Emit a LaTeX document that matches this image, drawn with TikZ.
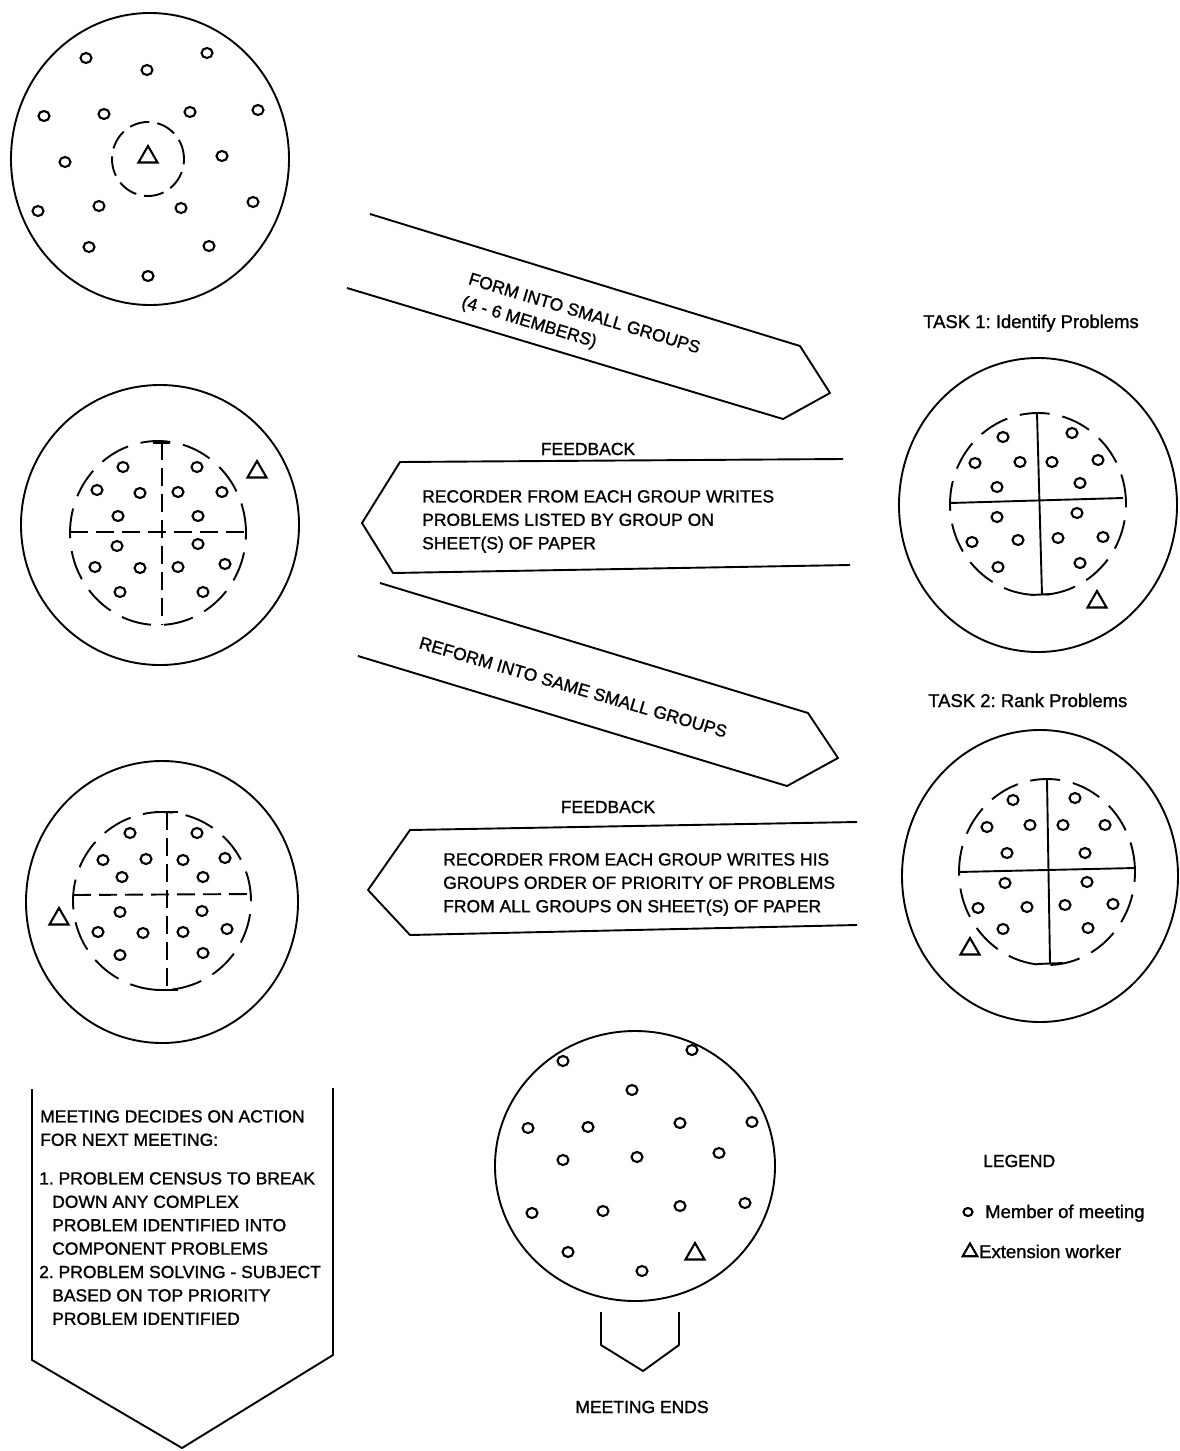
\documentclass[tikz,border=0pt]{standalone}
\usepackage{fontspec}
\setmainfont{Liberation Sans}
\newfontfamily\scanfont{Liberation Sans}[FakeBold=1.2]
\usetikzlibrary{shapes.geometric}
\tikzset{
  room/.style={draw, ellipse, inner sep=0pt, line width=1.9pt},
  member/.style={draw, ellipse, minimum width=11pt, minimum height=10pt, inner sep=0pt, line width=2.1pt},
  worker/.style={draw, regular polygon, regular polygon sides=3, minimum size=22pt, inner sep=0pt, line width=2.1pt},
  grpring/.style={line width=1.9pt, dash pattern=on 30pt off 13pt},
  smallring/.style={line width=1.9pt, dash pattern=on 20pt off 8pt},
  crossdash/.style={line width=1.9pt, dash pattern=on 18pt off 8pt},
  crosssolid/.style={line width=1.9pt},
  blockarrow/.style={line width=1.9pt, line join=round},
  caps/.style={font=\scanfont\frenchspacing\fontsize{17.5}{23.4}\selectfont, inner sep=0pt},
  mixed/.style={font=\scanfont\frenchspacing\fontsize{18.5}{23}\selectfont, inner sep=0pt},
}
\begin{document}
\begin{tikzpicture}[x=1pt,y=-1pt]
\useasboundingbox (0,0) rectangle (1179,1451);
\fill[white] (0,0) rectangle (1179,1451);

% ---------- circle 1 : whole meeting ----------
\node[room, minimum width=278pt, minimum height=292pt] (c1) at (150,159) {};
\draw[smallring] (148,159) ellipse [x radius=36pt, y radius=37pt];
\node[worker] (w1) at (148,157) {};
\foreach \p [count=\i] in {(86,58),(207,53),(147,70),(44,116),(104,114),(190,112),(258,110),(65,162),(222,156),(38,211),(99,206),(181,208),(253,202),(89,247),(209,246),(148,276)}
  \node[member] (a\i) at \p {};

% ---------- arrow 1 ----------
\draw[blockarrow] (370,214) -- (800,346) -- (830,393) -- (783,419) -- (347,288);
\node[caps, font=\scanfont\frenchspacing\fontsize{17.5}{24}\selectfont, rotate=-16.8, anchor=north west, align=left] (t1) at (471,272)
  {FORM INTO SMALL GROUPS\\(4 - 6 MEMBERS)};

% ---------- circle 3 : task 1 ----------
\node[mixed, anchor=base west] (task1) at (923,328) {TASK 1: Identify Problems};
\node[room, minimum width=278pt, minimum height=294pt] (c3) at (1038,505) {};
\draw[grpring] (1038,504) ellipse [x radius=88pt, y radius=91pt];
\draw[crosssolid] (1037,413) -- (1042,595);
\draw[crosssolid] (950,503) -- (1123,498);
\draw[crosssolid] (1031,595) -- (1052,594);
\node[worker] (w3) at (1097,602) {};
\foreach \p [count=\i] in {(1003,437),(1072,433),(975,463),(1020,462),(1052,462),(1098,460),(997,487),(1080,483),(997,517),(1077,513),(972,542),(1018,540),(1058,538),(1103,537),(998,567),(1080,563)}
  \node[member] (b\i) at \p {};

% ---------- feedback 1 ----------
\node[caps, anchor=base] (fb1) at (588,455) {FEEDBACK};
\draw[blockarrow] (843,459) -- (400,462) -- (362,523) -- (393,573) -- (850,565);
\node[caps, anchor=north west, align=left] (fb1t) at (422,490)
  {RECORDER FROM EACH GROUP WRITES\\PROBLEMS LISTED BY GROUP ON\\SHEET(S) OF PAPER};

% ---------- circle 2 ----------
\node[room, minimum width=278pt, minimum height=280pt] (c2) at (160,525) {};
\draw[grpring] (158,533) ellipse [x radius=88pt, y radius=92pt];
\draw[crossdash] (162,442) -- (162,625);
\draw[crossdash] (70,532) -- (247,532);
\draw[crosssolid] (153,443) -- (170,443);
\node[worker] (w2) at (257,472) {};
\foreach \p [count=\i] in {(123,467),(197,467),(97,490),(140,493),(178,492),(222,492),(118,516),(198,516),(117,546),(198,544),(95,567),(140,568),(178,567),(225,564),(120,592),(203,592)}
  \node[member] (d\i) at \p {};

% ---------- arrow 2 ----------
\draw[blockarrow] (380,583) -- (808,713) -- (838,758) -- (787,786) -- (358,656);
\node[caps, rotate=-16.3, anchor=base west] (t2) at (418,648) {REFORM INTO SAME SMALL GROUPS};

% ---------- circle 4 : task 2 ----------
\node[mixed, anchor=base west] (task2) at (928,707) {TASK 2: Rank Problems};
\node[room, minimum width=276pt, minimum height=292pt] (c4) at (1040,876) {};
\draw[grpring] (1047,872) ellipse [x radius=88pt, y radius=93pt];
\draw[crosssolid] (1047,780) -- (1050,963);
\draw[crosssolid] (958,872) -- (1135,868);
\draw[crosssolid] (1037,964) -- (1063,963);
\node[worker] (w4) at (970,949) {};
\foreach \p [count=\i] in {(1013,800),(1075,798),(987,827),(1030,825),(1063,825),(1105,825),(1007,853),(1085,853),(1005,883),(1087,882),(978,908),(1027,907),(1065,905),(1113,904),(1003,929),(1088,928)}
  \node[member] (e\i) at \p {};

% ---------- feedback 2 ----------
\node[caps, anchor=base] (fb2) at (608,813) {FEEDBACK};
\draw[blockarrow] (857,822) -- (410,830) -- (368,890) -- (410,935) -- (857,925);
\node[caps, anchor=north west, align=left] (fb2t) at (443,853)
  {RECORDER FROM EACH GROUP WRITES HIS\\GROUPS ORDER OF PRIORITY OF PROBLEMS\\FROM ALL GROUPS ON SHEET(S) OF PAPER};

% ---------- circle 5 ----------
\node[room, minimum width=272pt, minimum height=282pt] (c5) at (162,902) {};
\draw[grpring] (162,901) ellipse [x radius=89pt, y radius=89pt];
\draw[crossdash] (167,812) -- (167,990);
\draw[crossdash] (73,895) -- (252,894);
\draw[crosssolid] (155,812) -- (178,812);
\draw[crosssolid] (155,990) -- (178,990);
\node[worker] (w5) at (59,919) {};
\foreach \p [count=\i] in {(130,833),(197,833),(103,860),(146,859),(183,860),(225,858),(122,877),(203,877),(120,912),(202,911),(98,932),(143,933),(183,932),(227,929),(120,955),(203,953)}
  \node[member] (f\i) at \p {};

% ---------- decision box ----------
\draw[blockarrow] (32,1089) -- (32,1360) -- (182,1448) -- (333,1355) -- (333,1088);
\node[caps, anchor=north west, align=left] (dec1) at (40,1110)
  {MEETING DECIDES ON ACTION\\FOR NEXT MEETING:};
\node[caps, anchor=north west, align=left] (dec2) at (39,1172)
  {1. PROBLEM CENSUS TO BREAK\\\hspace*{13pt}DOWN ANY COMPLEX\\\hspace*{13pt}PROBLEM IDENTIFIED INTO\\\hspace*{13pt}COMPONENT PROBLEMS\\2. PROBLEM SOLVING - SUBJECT\\\hspace*{13pt}BASED ON TOP PRIORITY\\\hspace*{13pt}PROBLEM IDENTIFIED};

% ---------- circle 6 : meeting ends ----------
\node[room, minimum width=280pt, minimum height=270pt] (c6) at (635,1166) {};
\node[worker] (w6) at (695,1254) {};
\foreach \p [count=\i] in {(563,1061),(692,1050),(632,1090),(528,1128),(588,1127),(680,1123),(752,1122),(563,1160),(637,1157),(719,1153),(532,1213),(603,1211),(680,1206),(745,1203),(568,1252),(642,1271)}
  \node[member] (g\i) at \p {};
\draw[blockarrow] (601,1312) -- (601,1345) -- (643,1371) -- (679,1345) -- (679,1312);
\node[caps, anchor=base] (ends) at (642,1413) {MEETING ENDS};

% ---------- legend ----------
\node[caps, anchor=base west] (leg) at (983,1167) {LEGEND};
\node[member, minimum width=9pt, minimum height=8pt] (legm) at (968,1212) {};
\node[mixed, anchor=base west] (legmt) at (985,1218) {Member of meeting};
\node[worker, minimum size=17pt] (legw) at (970,1252) {};
\node[mixed, anchor=base west] (legwt) at (979,1258) {Extension worker};
\end{tikzpicture}
\end{document}
